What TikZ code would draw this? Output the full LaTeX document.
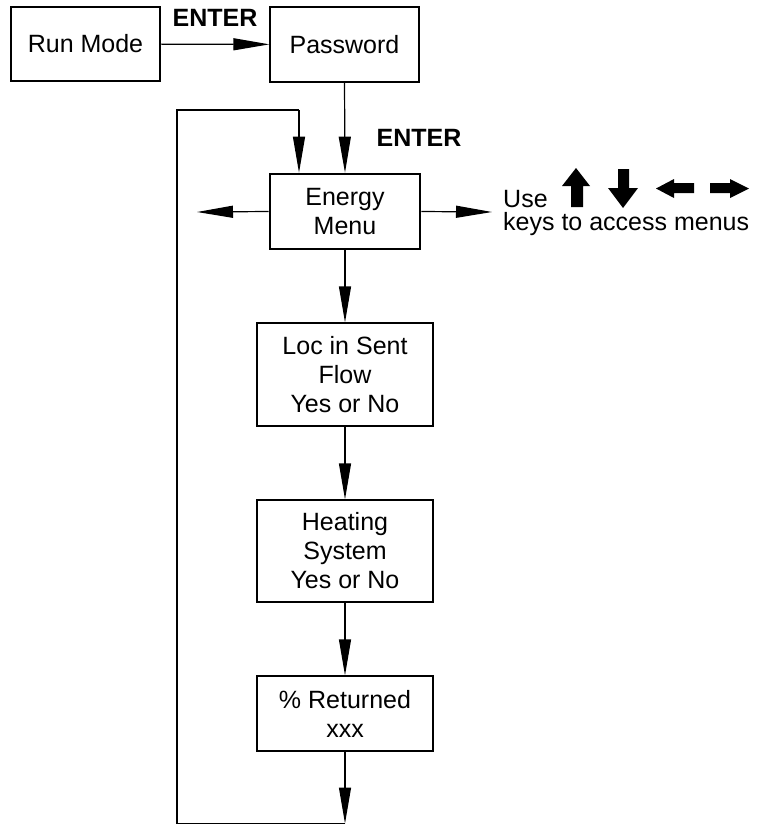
\documentclass[tikz,border=0pt]{standalone}
\usepackage{fontspec}
\setmainfont{Liberation Sans}
\usetikzlibrary{arrows.meta}
\begin{document}
\begin{tikzpicture}[x=1pt,y=-1pt,
  box/.style={draw, line width=1.2pt, inner sep=0pt, align=center, font=\fontsize{25}{29}\selectfont},
  thickbox/.style={box, line width=2.6pt},
  conn/.style={line width=1.2pt},
  arr/.style={conn, -{Triangle[length=36pt,width=12pt]}},
  lbl/.style={inner sep=0pt, font=\fontsize{25}{29}\selectfont\bfseries},
  txt/.style={inner sep=0pt, anchor=base west, font=\fontsize{25}{29}\selectfont}]
\useasboundingbox (0,0) rectangle (761,825);
% boxes
\node[box, minimum width=149pt, minimum height=74pt] (run) at (85.5,44) {Run Mode};
\node[box, minimum width=149pt, minimum height=75pt] (pwd) at (344.5,44.5) {Password};
\node[thickbox, minimum width=150pt, minimum height=75pt] (energy) at (345,211.5) {Energy\\Menu};
\node[box, minimum width=176pt, minimum height=103pt] (loc) at (345,374.5) {Loc in Sent\\Flow\\Yes or No};
\node[box, minimum width=176pt, minimum height=102pt] (heat) at (345,551) {Heating\\System\\Yes or No};
\node[box, minimum width=176pt, minimum height=75pt] (ret) at (345,713.5) {\% Returned\\xxx};
% labels
\node[lbl] (enter1) at (215,18) {ENTER};
\node[lbl] (enter2) at (419,138) {ENTER};
\node[txt] (use) at (503,207) {Use};
\node[txt] (keys) at (503,230) {keys to access menus};
% connectors
\draw[arr] (run) -- (pwd);
\draw[arr] (pwd.south) -- (energy.north);
\coordinate (lefttip) at (197,212);
\coordinate (righttip) at (492,212);
\draw[arr] (energy.west) -- (lefttip);
\draw[arr] (energy.east) -- (righttip);
\draw[arr] (energy.south) -- (loc.north);
\draw[arr] (loc.south) -- (heat.north);
\draw[arr] (heat.south) -- (ret.north);
% feedback loop
\coordinate (br) at (345,823.5);
\coordinate (bl) at (177,823.5);
\coordinate (tl) at (177,110);
\coordinate (tr) at (299,110);
\draw[arr] (ret.south) -- (br);
\draw[conn] (br) -- (bl) -- (tl) -- (tr);
\draw[arr] (tr) -- (tr |- energy.north);
% key arrows
\fill (576,168) -- (590,186) -- (583,186) -- (583,207) -- (571,207) -- (571,186) -- (562,186) -- cycle;
\fill (623,208) -- (638,188) -- (629,188) -- (629,169) -- (618,169) -- (618,188) -- (608,188) -- cycle;
\fill (656,188.5) -- (674,179) -- (674,183) -- (694,183) -- (694,193) -- (674,193) -- (674,198) -- cycle;
\fill (749,188.5) -- (730,179) -- (730,183) -- (710,183) -- (710,193) -- (730,193) -- (730,198) -- cycle;
\end{tikzpicture}
\end{document}
